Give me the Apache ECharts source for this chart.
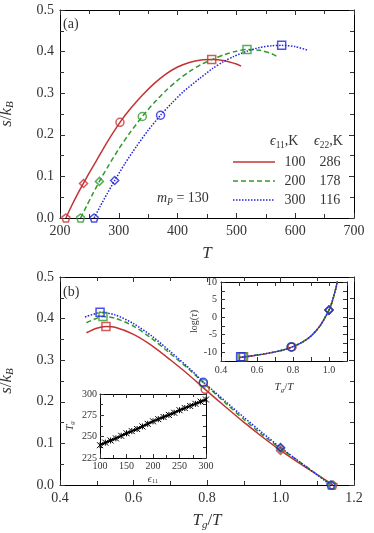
<!DOCTYPE html>
<html><head><meta charset="utf-8">
<script src="https://cdn.jsdelivr.net/npm/echarts@6/dist/echarts.min.js"></script>
<style>html,body{margin:0;padding:0;background:#fff}#c{width:374px;height:533px}</style>
</head><body><div id="c"></div>
<script>
// ---------- Panel (a): s/kB vs T ----------
const redT   = [210, 220, 230, 240, 250, 260, 280, 302, 320, 340, 360, 380, 400, 420, 440, 458, 480, 500, 508];
const redS   = [0, 0.030, 0.058, 0.084, 0.109, 0.133, 0.182, 0.230, 0.263, 0.295, 0.323, 0.346, 0.363, 0.374, 0.380, 0.381, 0.378, 0.370, 0.365];
const greenT = [235, 245, 255, 267, 280, 300, 320, 340, 360, 380, 400, 420, 440, 460, 480, 500, 518, 540, 560, 568];
const greenS = [0, 0.028, 0.056, 0.088, 0.120, 0.166, 0.207, 0.244, 0.277, 0.306, 0.331, 0.352, 0.369, 0.382, 0.393, 0.401, 0.405, 0.403, 0.395, 0.389];
const blueT  = [258, 268, 280, 293, 310, 330, 350, 371, 390, 410, 438, 460, 477, 495, 518, 540, 560, 577, 600, 622];
const blueS  = [0, 0.027, 0.058, 0.090, 0.130, 0.172, 0.211, 0.247, 0.276, 0.304, 0.336, 0.360, 0.375, 0.388, 0.401, 0.410, 0.414, 0.415, 0.412, 0.403];
const redMarkT   = [210, 240, 302, 458];
const redMarkS   = [0, 0.083, 0.230, 0.381];
const greenMarkT = [235, 267, 340, 518];
const greenMarkS = [0, 0.088, 0.244, 0.405];
const blueMarkT  = [258, 293, 371, 577];
const blueMarkS  = [0, 0.090, 0.247, 0.415];
// ---------- Panel (b): s/kB vs Tg/T ----------
const redX   = [0.472, 0.5, 0.525, 0.55, 0.6, 0.65, 0.7, 0.75, 0.795, 0.85, 0.9, 0.95, 1.0, 1.05, 1.1, 1.143];
const redY   = [0.366, 0.377, 0.381, 0.379, 0.362, 0.335, 0.301, 0.265, 0.230, 0.188, 0.151, 0.116, 0.083, 0.053, 0.025, 0];
const greenX = [0.472, 0.5, 0.517, 0.55, 0.6, 0.65, 0.7, 0.75, 0.79, 0.85, 0.9, 0.95, 1.0, 1.05, 1.1, 1.14];
const greenY = [0.390, 0.401, 0.405, 0.401, 0.382, 0.352, 0.316, 0.279, 0.246, 0.197, 0.158, 0.121, 0.088, 0.057, 0.025, 0];
const blueX  = [0.468, 0.5, 0.509, 0.55, 0.6, 0.65, 0.7, 0.75, 0.79, 0.85, 0.9, 0.95, 1.0, 1.05, 1.1, 1.137];
const blueY  = [0.404, 0.413, 0.415, 0.409, 0.388, 0.358, 0.321, 0.282, 0.248, 0.201, 0.163, 0.126, 0.090, 0.057, 0.024, 0];
const redMarkX   = [1.143, 1.0, 0.795, 0.525];
const greenMarkX = [1.14, 1.0, 0.79, 0.517];
const blueMarkX  = [1.137, 1.0, 0.79, 0.509];
// ---------- Inset: log(tau) vs Tg/T ----------
const tauX = [0.5, 0.55, 0.6, 0.65, 0.7, 0.75, 0.8, 0.85, 0.9, 0.95, 1.0, 1.02, 1.04, 1.047];
const tauY = [-11.5, -11.2, -10.8, -10.4, -9.9, -9.3, -8.4, -7.2, -5.4, -2.5, 2.0, 4.8, 8.6, 10.5];
const redTauMarkX   = [0.525, 0.795, 1.0];
const greenTauMarkX = [0.517, 0.79, 1.0];
const blueTauMarkX  = [0.509, 0.79, 1.0];
const tauMarkY      = [-11.3, -8.5, 2.0];
// ---------- Inset: Tg vs eps11 ----------
const eps11 = [100,110,120,130,140,150,160,170,180,190,200,210,220,230,240,250,260,270,280,290,300];
const tg    = [240,243,245.5,248,251,254,256.5,259,262,265,268,270.5,273,275.5,278,281,283.5,286,288.5,291,293.5];
// ---------- Legend ----------
const legEps11 = ['100','200','300'];
const legEps22 = ['286','178','116'];

const FONT = "'Liberation Serif','DejaVu Serif',serif";
const TXT = '#333';
const C = ['#c43333', '#2f9a2f', '#2323e0'];
const DASH = ['solid', [5, 3], [1.5, 1.5]];
const PENT = 'path://M5,0 L9.755,3.455 L7.939,9.045 L2.061,9.045 L0.245,3.455 Z';
const STAR = 'path://M0,0 L10,10 M10,0 L0,10 M5,0 L5,10';
const shapesA = [PENT, 'diamond', 'circle', 'rect'];
const shapesTau = ['rect', 'circle', 'diamond'];

function zip(a, b) { return a.map((v, i) => [v, b[i]]); }

function axis(type, pos, gi, min, max, interval, o) {
  o = o || {};
  const labels = !!o.labels;
  return {
    type: 'value', gridIndex: gi, position: pos, min, max, interval,
    axisLine: { show: true, onZero: false, lineStyle: { color: '#000', width: 1 } },
    axisTick: { show: true, inside: true, length: o.tick || 5, lineStyle: { color: '#333' } },
    minorTick: { show: !!o.minor, splitNumber: 2, length: o.mtick || 4, lineStyle: { color: '#333' } },
    splitLine: { show: false },
    axisLabel: { show: labels, color: TXT, fontFamily: FONT, fontSize: o.fs || 14, margin: o.margin || 6,
      formatter: o.fmt || (v => v), showMaxLabel: o.showMax !== false },
    name: labels ? o.name : '', nameLocation: 'middle', nameGap: o.nameGap || 25,
    nameTextStyle: o.nameStyle || {},
  };
}

const f1 = v => v.toFixed(1);
const nameRich = fs => ({ color: TXT, fontFamily: FONT, fontSize: fs,
  rich: { i: { fontStyle: 'italic', fontFamily: FONT, fontSize: fs, color: TXT },
          r: { fontFamily: FONT, fontSize: fs, color: TXT },
          sub: { fontStyle: 'italic', fontFamily: FONT, fontSize: fs * 0.65, color: TXT, verticalAlign: 'bottom', padding: [fs * 0.5, 0, 0, 0] },
          subr: { fontFamily: FONT, fontSize: fs * 0.65, color: TXT, padding: [fs * 0.5, 0, 0, 0] } } });

const G = { outerBoundsMode: 'none', containLabel: false };
const grids = [
  { ...G, left: 60, top: 10, width: 294, height: 208 },
  { ...G, left: 60, top: 277, width: 294, height: 208 },
  { ...G, left: 221, top: 282, width: 126, height: 79, show: true, backgroundColor: '#fff', borderWidth: 0, z: 5 },
  { ...G, left: 100, top: 394, width: 106, height: 64, show: true, backgroundColor: '#fff', borderWidth: 0, z: 5 },
];

const xAxes = [
  axis('x', 'bottom', 0, 200, 700, 100, { labels: true, minor: true, name: '{i|T}', nameGap: 27, nameStyle: nameRich(17) }),
  axis('x', 'top', 0, 200, 700, 100, { minor: true }),
  axis('x', 'bottom', 1, 0.4, 1.2, 0.2, { labels: true, minor: true, fmt: f1, name: '{i|T}{sub|g}{r|/}{i|T}', nameGap: 26, nameStyle: nameRich(17) }),
  axis('x', 'top', 1, 0.4, 1.2, 0.2, { minor: true }),
  axis('x', 'bottom', 2, 0.4, 1.1, 0.1, { labels: true, fs: 10, tick: 4, margin: 4, showMax: false,
    fmt: v => (Math.round(v * 10) % 2 === 0 ? v.toFixed(1) : ''), name: '{i|T}{sub|g}{r|/}{i|T}', nameGap: 20, nameStyle: nameRich(11) }),
  axis('x', 'top', 2, 0.4, 1.1, 0.1, { tick: 4 }),
  axis('x', 'bottom', 3, 100, 300, 50, { labels: true, minor: true, fs: 10, tick: 4, mtick: 3, margin: 3, name: '{i|ϵ}{subr|11}', nameGap: 15, nameStyle: nameRich(10) }),
  axis('x', 'top', 3, 100, 300, 50, { minor: true, tick: 4, mtick: 3 }),
];
const yAxes = [
  axis('y', 'left', 0, 0, 0.5, 0.1, { labels: true, minor: true, fmt: f1, name: '{i|s}{r|/}{i|k}{sub|B}', nameGap: 44, nameStyle: nameRich(17) }),
  axis('y', 'right', 0, 0, 0.5, 0.1, { minor: true }),
  axis('y', 'left', 1, 0, 0.5, 0.1, { labels: true, minor: true, fmt: f1, name: '{i|s}{r|/}{i|k}{sub|B}', nameGap: 44, nameStyle: nameRich(17) }),
  axis('y', 'right', 1, 0, 0.5, 0.1, { minor: true }),
  axis('y', 'left', 2, -12.5, 10, 2.5, { labels: true, fs: 10, tick: 4, margin: 4,
    fmt: v => (Math.round(v * 10) % 50 === 0 ? String(v) : ''), name: '{r|log(}{i|τ}{r|)}', nameGap: 14, nameStyle: nameRich(10) }),
  axis('y', 'right', 2, -12.5, 10, 2.5, { tick: 4 }),
  axis('y', 'left', 3, 225, 300, 25, { labels: true, minor: true, fs: 10, tick: 4, mtick: 3, margin: 3, name: '{i|T}{sub|g}', nameGap: 24, nameStyle: nameRich(11) }),
  axis('y', 'right', 3, 225, 300, 25, { minor: true, tick: 4, mtick: 3 }),
];
[...xAxes, ...yAxes].forEach(a => { if (a.gridIndex >= 2) a.z = 6; });

const series = [];
function line(xi, data, ci, z) {
  series.push({ type: 'line', xAxisIndex: xi, yAxisIndex: xi, data, symbol: 'none', smooth: 0.25,
    lineStyle: { color: C[ci], width: 1.5, type: DASH[ci] }, z: z || 2, silent: true, animation: false });
}
function marks(xi, data, shapes, ci, size, z) {
  series.push({ type: 'scatter', xAxisIndex: xi, yAxisIndex: xi, symbolSize: size || 8,
    data: data.map((d, i) => ({ value: d, symbol: shapes[i] })),
    itemStyle: { color: 'rgba(0,0,0,0)', borderColor: C[ci], borderWidth: 1.5 }, z: z || 3, animation: false, silent: true });
}
// panel a
line(0, zip(redT, redS), 0); line(0, zip(greenT, greenS), 1); line(0, zip(blueT, blueS), 2);
marks(0, zip(redMarkT, redMarkS), shapesA, 0); marks(0, zip(greenMarkT, greenMarkS), shapesA, 1); marks(0, zip(blueMarkT, blueMarkS), shapesA, 2);
// panel b
line(2, zip(redX, redY), 0); line(2, zip(greenX, greenY), 1); line(2, zip(blueX, blueY), 2);
marks(2, zip(redMarkX, redMarkS), shapesA, 0); marks(2, zip(greenMarkX, greenMarkS), shapesA, 1); marks(2, zip(blueMarkX, blueMarkS), shapesA, 2);
// inset tau
line(4, zip(tauX, tauY), 0, 7); line(4, zip(tauX, tauY), 1, 7); line(4, zip(tauX, tauY), 2, 7);
marks(4, zip(redTauMarkX, tauMarkY), shapesTau, 0, 8, 8); marks(4, zip(greenTauMarkX, tauMarkY), shapesTau, 1, 8, 8); marks(4, zip(blueTauMarkX, tauMarkY), shapesTau, 2, 8, 8);
// inset Tg
series.push({ type: 'line', xAxisIndex: 6, yAxisIndex: 6, data: zip(eps11, tg), symbol: STAR, symbolSize: 6,
  lineStyle: { color: '#000', width: 2 }, itemStyle: { color: '#000', borderColor: '#000', borderWidth: 1 }, z: 7, animation: false, silent: true });

// legend + annotations
const rich = { r: { fontFamily: FONT, fontSize: 14, fill: TXT }, i: { fontFamily: FONT, fontSize: 14, fill: TXT, fontStyle: 'italic' },
  sub: { fontFamily: FONT, fontSize: 9.5, fill: TXT, padding: [7, 0, 0, 0] }, isub: { fontFamily: FONT, fontSize: 9.5, fill: TXT, fontStyle: 'italic', padding: [7, 0, 0, 0] } };
const graphic = [
  { type: 'text', left: 63, top: 17, style: { text: '(a)', font: `14px ${FONT}`, fill: TXT } },
  { type: 'text', left: 63, top: 285, style: { text: '(b)', font: `14px ${FONT}`, fill: TXT } },
  { type: 'text', x: 270, y: 133, style: { text: '{i|ϵ}{sub|11}{r|,K}', rich } },
  { type: 'text', x: 314, y: 133, style: { text: '{i|ϵ}{sub|22}{r|,K}', rich } },
  { type: 'text', x: 157, y: 190, style: { text: '{i|m}{isub|P}{r| = 130}', rich } },
];
const rowsY = [162, 181, 200];
legEps11.forEach((v, i) => {
  graphic.push({ type: 'line', shape: { x1: 233, y1: rowsY[i], x2: 275, y2: rowsY[i] },
    style: { stroke: C[i], lineWidth: 1.5, lineDash: DASH[i] === 'solid' ? null : DASH[i] } });
  graphic.push({ type: 'text', x: 295, y: rowsY[i], style: { text: v, font: `14px ${FONT}`, fill: TXT, align: 'center', verticalAlign: 'middle' } });
  graphic.push({ type: 'text', x: 330, y: rowsY[i], style: { text: legEps22[i], font: `14px ${FONT}`, fill: TXT, align: 'center', verticalAlign: 'middle' } });
});

const chart = echarts.init(document.getElementById('c'), null, { renderer: 'canvas' });
chart.setOption({ animation: false, grid: grids, xAxis: xAxes, yAxis: yAxes, series, graphic });
</script></body></html>
